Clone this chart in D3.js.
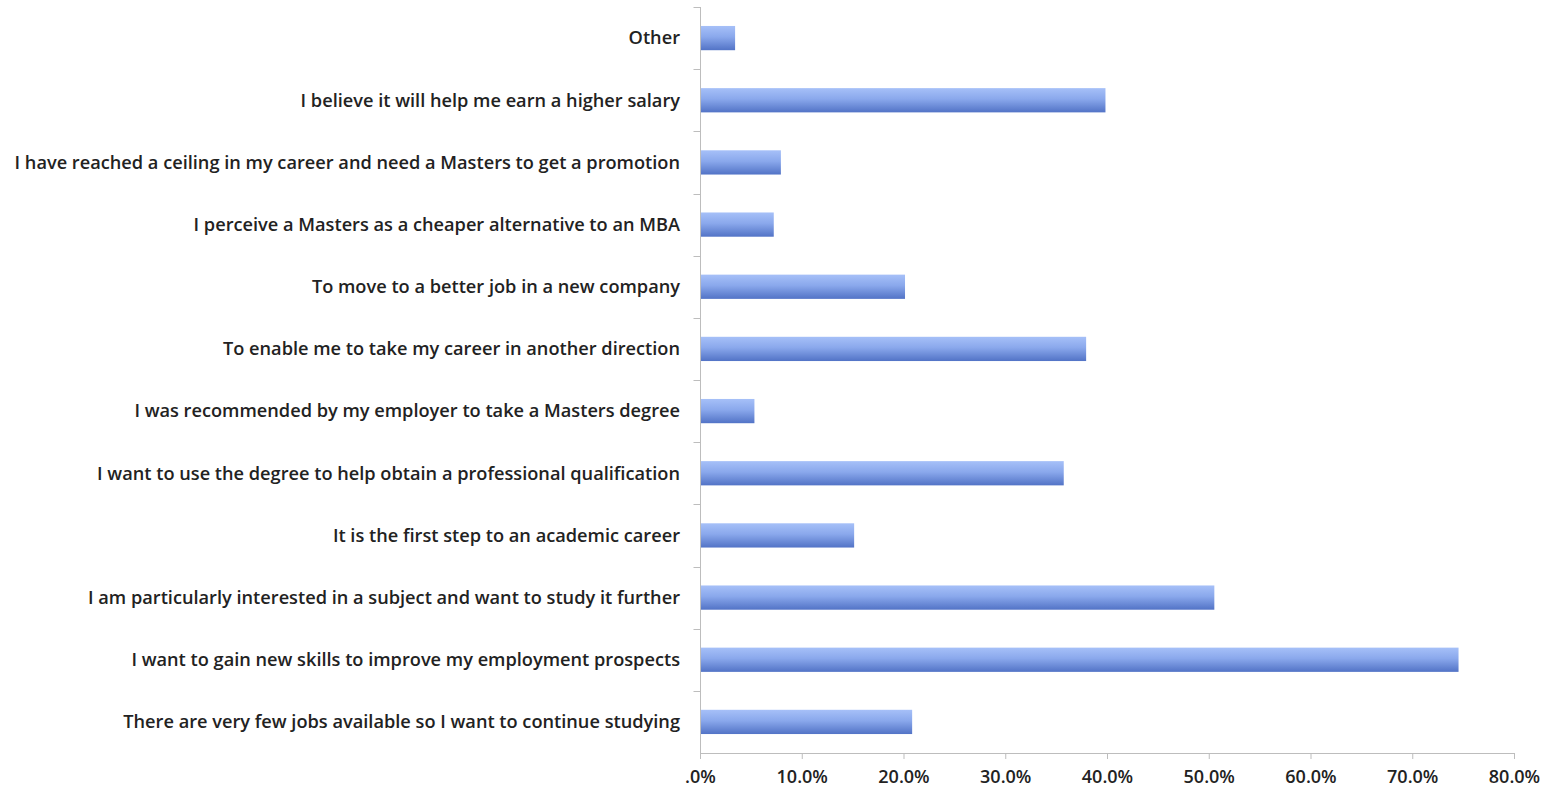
<!DOCTYPE html>
<html>
<head>
<meta charset="utf-8">
<script src="https://cdn.jsdelivr.net/npm/d3@7"></script>
<style>
  body { margin: 0; background: #fff; }
  text { font-family: "Open Sans", sans-serif; fill: #222; font-weight: 600; }
</style>
</head>
<body>
<div id="chart"></div>
<script>
// reasons, top to bottom as drawn
var reasons = [
  "Other",
  "I believe it will help me earn a higher salary",
  "I have reached a ceiling in my career and need a Masters to get a promotion",
  "I perceive a Masters as a cheaper alternative to an MBA",
  "To move to a better job in a new company",
  "To enable me to take my career in another direction",
  "I was recommended by my employer to take a Masters degree",
  "I want to use the degree to help obtain a professional qualification",
  "It is the first step to an academic career",
  "I am particularly interested in a subject and want to study it further",
  "I want to gain new skills to improve my employment prospects",
  "There are very few jobs available so I want to continue studying"
];
var shares = [3.4, 39.8, 7.9, 7.2, 20.1, 37.9, 5.3, 35.7, 15.1, 50.5, 74.5, 20.8];
var xTicks = [0, 10, 20, 30, 40, 50, 60, 70, 80];

var svgWidth = 1549, svgHeight = 787;
var plotLeft = 700.5, plotRight = 1514.5, plotTop = 7, plotBottom = 753;

var svg = d3.select('#chart')
  .append('svg')
  .attr('width', svgWidth)
  .attr('height', svgHeight);

var grad = svg.append('defs').append('linearGradient')
  .attr('id', 'barGrad')
  .attr('x1', 0).attr('y1', 0).attr('x2', 0).attr('y2', 1);
grad.append('stop').attr('offset', '0%').attr('stop-color', '#a6c0f8');
grad.append('stop').attr('offset', '45%').attr('stop-color', '#8aa8ec');
grad.append('stop').attr('offset', '100%').attr('stop-color', '#5273c6');

var x = d3.scaleLinear().domain([0, 80]).range([plotLeft, plotRight]);
var y = d3.scaleBand().domain(reasons).range([plotTop, plotBottom]).paddingInner(0.61).paddingOuter(0.305);
var yb = d3.scaleBand().domain(reasons).range([plotTop, plotBottom]);

// bars
svg.selectAll('rect.bar')
  .data(reasons)
  .enter()
  .append('rect')
  .attr('class', 'bar')
  .attr('x', x(0))
  .attr('y', function(d){ return y(d); })
  .attr('width', function(d, i){ return x(shares[i]) - x(0); })
  .attr('height', y.bandwidth())
  .attr('fill', 'url(#barGrad)');

// y axis line + ticks at band boundaries
svg.append('line')
  .attr('x1', plotLeft).attr('x2', plotLeft)
  .attr('y1', plotTop).attr('y2', plotBottom)
  .attr('stroke', '#bdbdbd');
svg.selectAll('line.ytick')
  .data(reasons)
  .enter()
  .append('line')
  .attr('class', 'ytick')
  .attr('x1', plotLeft - 7).attr('x2', plotLeft)
  .attr('y1', function(d){ return Math.round(yb(d)) + 0.5; })
  .attr('y2', function(d){ return Math.round(yb(d)) + 0.5; })
  .attr('stroke', '#bdbdbd');

svg.selectAll('text.ylab')
  .data(reasons)
  .enter()
  .append('text')
  .attr('class', 'ylab')
  .attr('x', 680)
  .attr('y', function(d){ return yb(d) + yb.bandwidth() / 2; })
  .attr('dy', '0.35em')
  .attr('text-anchor', 'end')
  .style('font-size', '18.2px')
  .text(function(d){ return d; });

// x axis
svg.append('line')
  .attr('x1', plotLeft).attr('x2', plotRight)
  .attr('y1', plotBottom + 0.5).attr('y2', plotBottom + 0.5)
  .attr('stroke', '#bdbdbd');
svg.selectAll('line.xtick')
  .data(xTicks)
  .enter()
  .append('line')
  .attr('class', 'xtick')
  .attr('x1', function(d){ return x(d); })
  .attr('x2', function(d){ return x(d); })
  .attr('y1', plotBottom).attr('y2', plotBottom + 6)
  .attr('stroke', '#bdbdbd');
svg.selectAll('text.xlab')
  .data(xTicks)
  .enter()
  .append('text')
  .attr('class', 'xlab')
  .attr('x', function(d){ return x(d); })
  .attr('y', 777)
  .attr('dy', '0.35em')
  .attr('text-anchor', 'middle')
  .style('font-size', '18px')
  .text(function(d){ return d === 0 ? '.0%' : d.toFixed(1) + '%'; });
</script>
</body>
</html>
